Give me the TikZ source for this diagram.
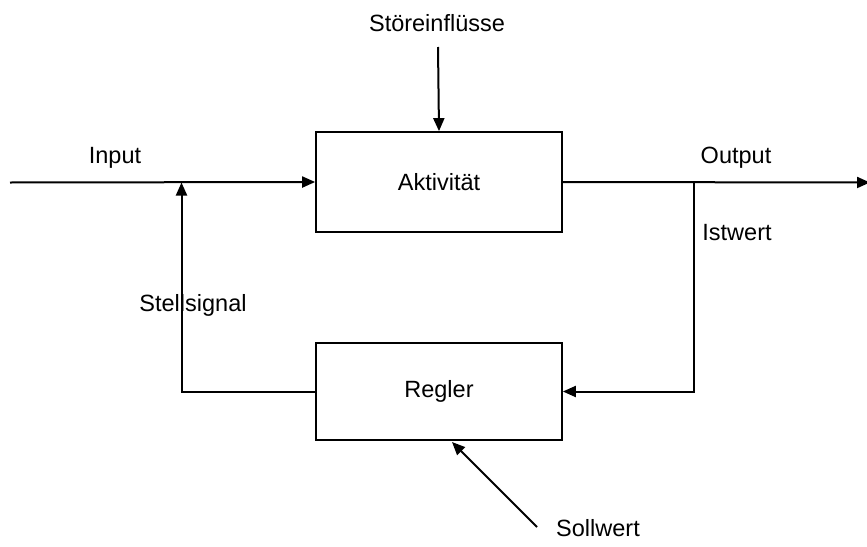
\documentclass[tikz,border=0pt]{standalone}
\usepackage{fontspec}
\setmainfont{Liberation Sans}
\usetikzlibrary{arrows.meta}
\begin{document}
\begin{tikzpicture}[x=1pt,y=-1pt,
  box/.style={draw,line width=1.7pt,minimum width=246pt,minimum height=100pt,inner sep=0pt,font=\fontsize{23.5}{27}\selectfont},
  lbl/.style={font=\fontsize{23.5}{27}\selectfont,inner sep=0pt},
  conn/.style={line width=2pt,-{Triangle[length=13pt,width=11pt]}},
  wire/.style={line width=2pt}]
\path[use as bounding box] (0,0) rectangle (867,546);
\node[box] (akt) at (439,182) {Aktivität};
\node[box,minimum height=97pt] (reg) at (439,391.5) {Regler};
\coordinate (in) at (10,182.5);
\coordinate (j1) at (181.5,182.5);
\coordinate (out) at (870,182.5);
\coordinate (j2) at (694,182.5);
\coordinate (st) at (438,47);
\coordinate (sw) at (537,527);
\coordinate (swend) at (452,442);
\node[lbl] (tst) at (437,23) {Störeinflüsse};
\node[lbl] (tin) at (115,158) {Input};
\node[lbl] (tout) at (736,158) {Output};
\node[lbl] (tist) at (737,233) {Istwert};
\node[lbl] (tss) at (193,305) {Stellsignal};
\node[lbl] (tsw) at (598,528) {Sollwert};
\draw[conn] (in) -- (akt.west);
\draw[conn] (akt.east) -- (out);
\draw[conn] (st) -- (akt.north);
\draw[conn] (j2) |- (reg.east);
\draw[conn] (reg.west) -| (j1);
\draw[conn] (sw) -- (swend);
\end{tikzpicture}
\end{document}
